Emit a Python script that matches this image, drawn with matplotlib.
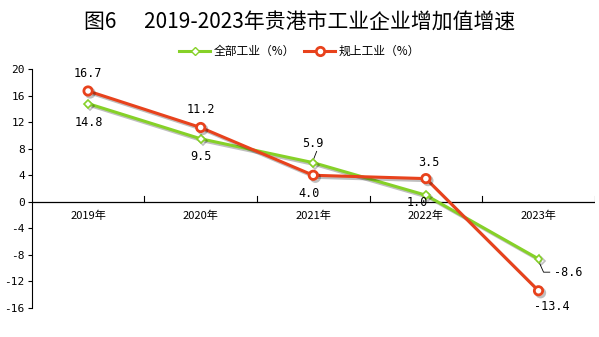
import matplotlib
matplotlib.use("Agg")
import matplotlib.pyplot as plt
import matplotlib.patheffects as pe
from matplotlib.lines import Line2D

plt.rcParams['font.family'] = ['Noto Sans CJK SC', 'DejaVu Sans']

years = ['2019年', '2020年', '2021年', '2022年', '2023年']
total_growth = [14.8, 9.5, 5.9, 1.0, -8.6]
above_scale_growth = [16.7, 11.2, 4.0, 3.5, -13.4]
yticks = [20, 16, 12, 8, 4, 0, -4, -8, -12, -16]

green = '#86D128'
red = '#E8421C'

fig = plt.figure(figsize=(5.99, 3.37), dpi=100)
ax = fig.add_axes([0.053, 0.086, 0.94, 0.709])

x = list(range(len(years)))
shadow = [pe.SimpleLineShadow(offset=(1.5, -1.5), alpha=0.25), pe.Normal()]
ax.plot(x, total_growth, color=green, linewidth=2.2, marker='D', markersize=4,
        markerfacecolor='white', markeredgecolor=green, markeredgewidth=1.2,
        path_effects=shadow, zorder=3)
ax.plot(x, above_scale_growth, color=red, linewidth=2.2, marker='o', markersize=6,
        markerfacecolor='white', markeredgecolor=red, markeredgewidth=2,
        path_effects=shadow, zorder=4)

ax.set_xlim(-0.5, 4.5)
ax.set_ylim(-16, 20)
ax.set_yticks(yticks)
ax.set_yticklabels([str(v) for v in yticks], fontsize=8, family='DejaVu Sans Mono')
ax.tick_params(axis='y', length=3, width=0.8, pad=2)

# x axis drawn along zero, ticks between categories
for s in ['top', 'right', 'bottom']:
    ax.spines[s].set_visible(False)
ax.spines['left'].set_linewidth(0.8)
ax.axhline(0, color='black', linewidth=0.9, zorder=2)
ax.set_xticks([])
for b in [0.5, 1.5, 2.5, 3.5, 4.5]:
    ax.plot([b, b], [0, 0.9], color='black', linewidth=0.8, zorder=2)
for i, yr in enumerate(years):
    ax.text(i, -1.3, yr, ha='center', va='top', fontsize=8)

lab = dict(fontsize=8.5, family='DejaVu Sans Mono', ha='center', va='center')
# 全部工业 labels
ax.text(0.01, 11.9, '14.8', **lab)
ax.text(1, 6.9, '9.5', **lab)
ax.text(2, 8.8, '5.9', **lab)
ax.plot([2.0, 2.03], [6.3, 7.6], color='black', linewidth=0.6)
ax.text(2.92, -0.1, '1.0', **lab)
ax.text(4.26, -10.6, '-8.6', **lab)
ax.plot([4.0, 4.045, 4.1], [-8.9, -10.6, -10.6], color='black', linewidth=0.6)
# 规上工业 labels
ax.text(0, 19.3, '16.7', **lab)
ax.text(1, 13.9, '11.2', **lab)
ax.text(1.96, 1.3, '4.0', **lab)
ax.text(3.03, 5.9, '3.5', **lab)
ax.text(4.12, -15.7, '-13.4', **lab)

fig.text(0.5, 0.932, '图6      2019-2023年贵港市工业企业增加值增速', ha='center', va='center',
         fontsize=15, fontweight='medium')

handles = [
    Line2D([0], [0], color=green, linewidth=2.2, marker='D', markersize=4,
           markerfacecolor='white', markeredgecolor=green),
    Line2D([0], [0], color=red, linewidth=2.2, marker='o', markersize=6,
           markerfacecolor='white', markeredgecolor=red, markeredgewidth=2),
]
fig.legend(handles, ['全部工业（%）', '规上工业（%）'], loc='center', bbox_to_anchor=(0.5, 0.848),
           ncol=2, frameon=False, fontsize=8.5, handlelength=2.6, columnspacing=0.8,
           handletextpad=0.3)

fig.savefig('out.png', dpi=100)
